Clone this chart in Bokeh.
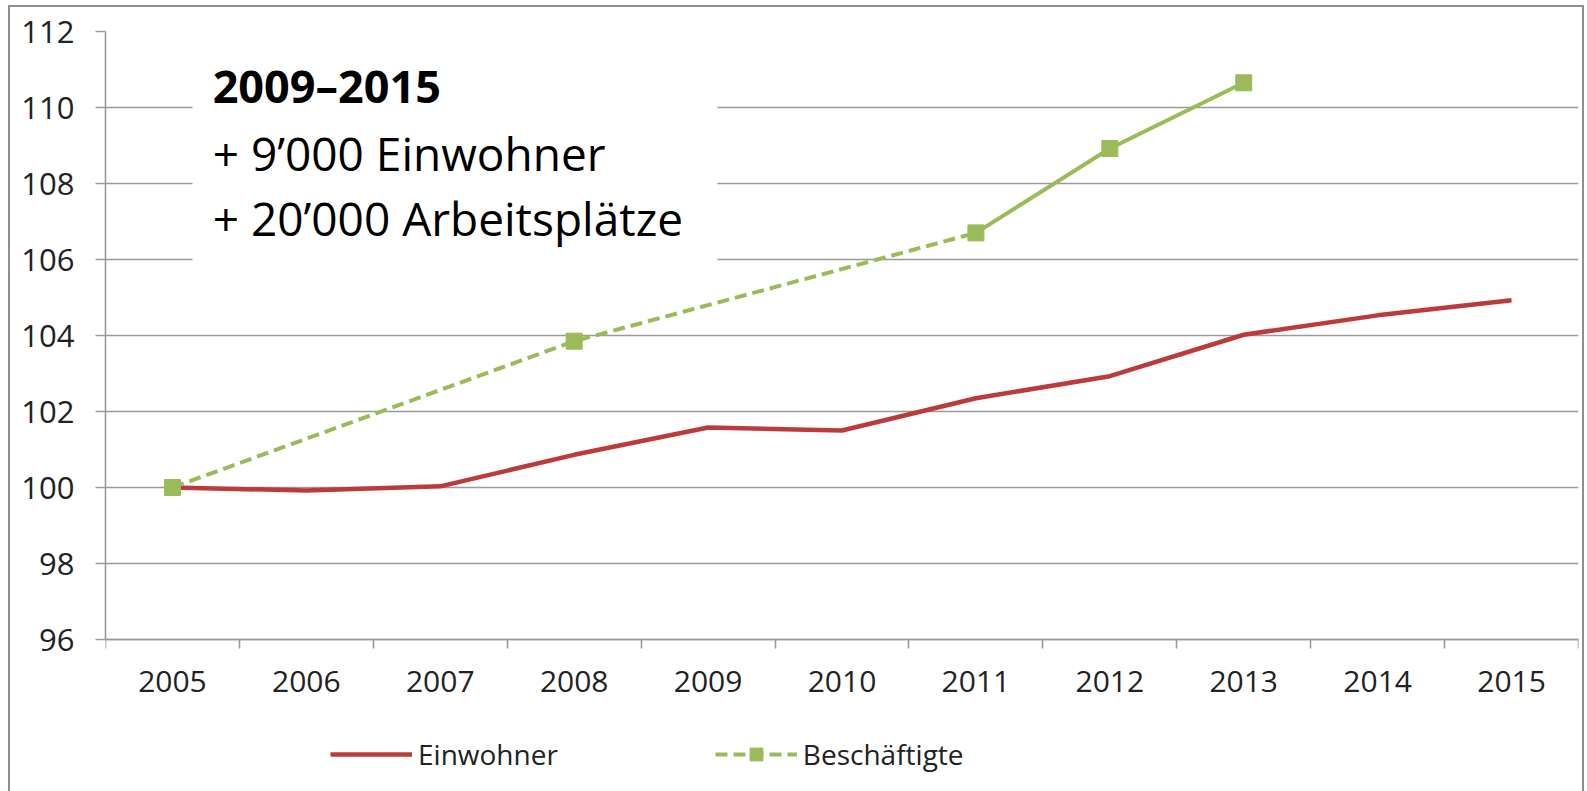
from bokeh.plotting import figure
from bokeh.models import (FixedTicker, Legend, LegendItem, Label)
from bokeh.embed import file_html
from bokeh.resources import INLINE

# ---- data ----
years = [2005, 2006, 2007, 2008, 2009, 2010, 2011, 2012, 2013, 2014, 2015]
einwohner = [100.0, 99.92, 100.03, 100.86, 101.58, 101.5, 102.35, 102.93, 104.02, 104.53, 104.93]
besch_years = [2005, 2008, 2011, 2012, 2013]
besch_values = [100.0, 103.85, 106.7, 108.92, 110.65]
y_ticks = [96, 98, 100, 102, 104, 106, 108, 110, 112]
note_title = "2009–2015"
note_lines = ["+ 9’000 Einwohner", "+ 20’000 Arbeitsplätze"]
series_names = ["Einwohner", "Beschäftigte"]

RED = "#BC3A3A"
GREEN = "#9BBB59"
GRID = "#9a9a9a"
FONT = "Open Sans"
TXT = "#222222"

# frame extends below the x axis so that the legend can sit inside it
p = figure(width=1572, height=784, output_backend="svg", toolbar_location=None,
           x_range=(years[0] - 0.5, years[-1] + 0.5), y_range=(92, y_ticks[-1]),
           min_border_left=95, min_border_right=4, min_border_top=24, min_border_bottom=0)
p.outline_line_color = None
p.background_fill_color = "white"
p.border_fill_color = "white"
p.styles = {"margin-left": "10px", "margin-top": "7px",
            "outline": "2px solid #8f8f8f", "outline-offset": "0px"}

# grid
p.xgrid.grid_line_color = None
p.ygrid.grid_line_color = GRID
p.ygrid.grid_line_width = 1.6
p.ygrid.ticker = FixedTicker(ticks=y_ticks)

# y axis
p.yaxis.ticker = FixedTicker(ticks=y_ticks)
p.yaxis.bounds = (y_ticks[0], y_ticks[-1])
p.yaxis.axis_line_color = GRID
p.yaxis.axis_line_width = 1.6
p.yaxis.major_tick_line_color = GRID
p.yaxis.major_tick_line_width = 1.6
p.yaxis.major_tick_out = 10
p.yaxis.major_tick_in = 0
p.yaxis.minor_tick_line_color = None
p.yaxis.major_label_standoff = 21
p.yaxis.major_label_text_font = FONT
p.yaxis.major_label_text_font_size = "31px"
p.yaxis.major_label_text_color = TXT

# x axis: labels at category centres, ticks between categories
p.xaxis.fixed_location = y_ticks[0]
p.xaxis.ticker = FixedTicker(ticks=years, minor_ticks=[y - 0.5 for y in years] + [years[-1] + 0.5])
p.xaxis.axis_line_color = GRID
p.xaxis.axis_line_width = 1.6
p.xaxis.major_tick_line_color = None
p.xaxis.major_tick_out = 0
p.xaxis.major_tick_in = 0
p.xaxis.minor_tick_line_color = GRID
p.xaxis.minor_tick_line_width = 1.6
p.xaxis.minor_tick_out = 9
p.xaxis.minor_tick_in = 0
p.xaxis.major_label_standoff = 22
p.xaxis.major_label_text_font = FONT
p.xaxis.major_label_text_font_size = "30px"
p.xaxis.major_label_text_color = TXT

# series
r_ein = p.line(years, einwohner, line_color=RED, line_width=4.5)
cut = besch_years.index(2011)
r_dash = p.line(besch_years[:cut + 1], besch_values[:cut + 1], line_color=GREEN,
                line_width=4, line_dash="12 6")
p.line(besch_years[cut:], besch_values[cut:], line_color=GREEN, line_width=4)
r_mark = p.scatter(besch_years, besch_values, marker="square", size=16,
                   fill_color=GREEN, line_color=GREEN)

# annotation box
p.quad(left=[2005.15], right=[2009.07], bottom=[105.75], top=[111.8],
       fill_color="white", line_color=None)
p.add_layout(Label(x=2005.3, y=110.59, text=note_title, text_font=FONT,
                   text_font_size="45px", text_font_style="bold", text_color="black",
                   text_baseline="alphabetic"))
for txt, yy in zip(note_lines, [108.79, 107.1]):
    p.add_layout(Label(x=2005.3, y=yy, text=txt, text_font=FONT,
                       text_font_size="46px", text_color="black",
                       text_baseline="alphabetic"))

legend = Legend(items=[LegendItem(label=series_names[0], renderers=[r_ein]),
                       LegendItem(label=series_names[1], renderers=[r_dash, r_mark])],
                orientation="horizontal", location=(225, 18),
                glyph_width=82, glyph_height=32, label_standoff=6, spacing=157,
                padding=0, margin=0, border_line_color=None, background_fill_alpha=0,
                label_text_font=FONT, label_text_font_size="28px", label_text_color=TXT)
p.add_layout(legend)

open("out.html", "w").write(file_html(p, INLINE))
